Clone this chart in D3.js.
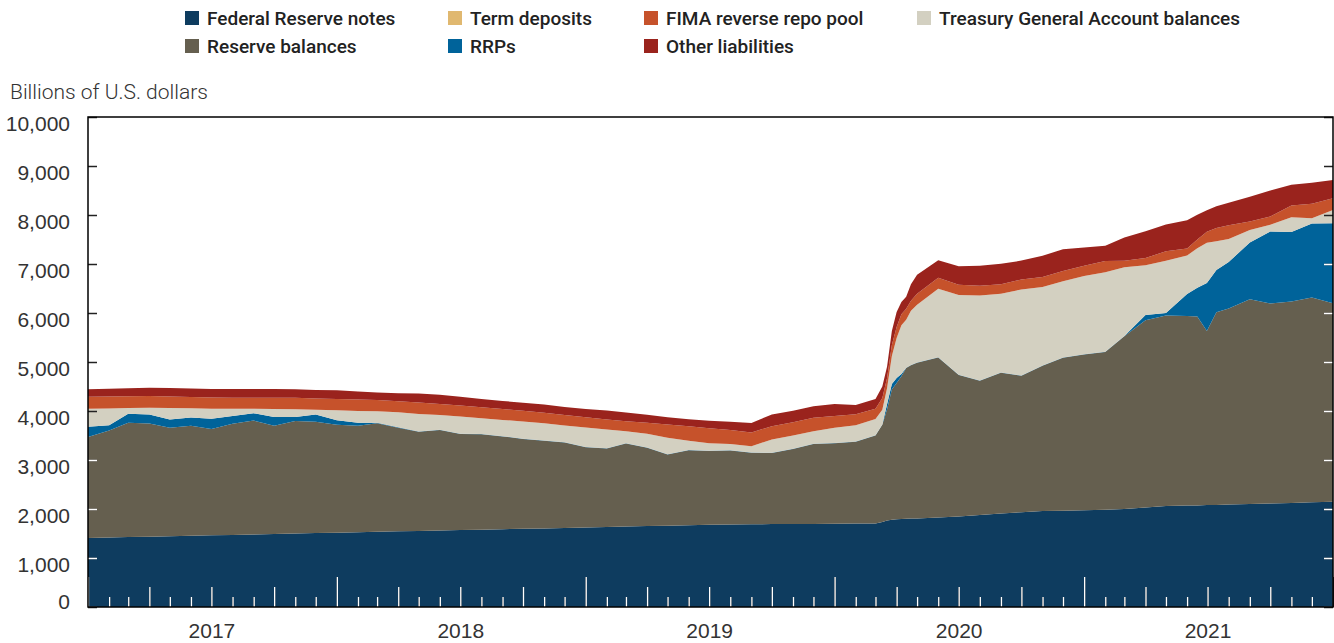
<!DOCTYPE html>
<html>
<head>
<meta charset="utf-8">
<script src="https://cdn.jsdelivr.net/npm/d3@7"></script>
<style>
  body { margin: 0; background: #fff; }
  svg { display: block; font-family: Roboto, "Liberation Sans", sans-serif; }
</style>
</head>
<body>
<svg width="1334" height="643"></svg>
<script>
// liabilities of the Fed, billions of dollars
var dates = [
  "2017-01-01","2017-02-01","2017-03-01","2017-04-01","2017-05-01","2017-06-01","2017-07-01","2017-08-01","2017-09-01","2017-10-01","2017-11-01","2017-12-01",
  "2018-01-01","2018-02-01","2018-03-01","2018-04-01","2018-05-01","2018-06-01","2018-07-01","2018-08-01","2018-09-01","2018-10-01","2018-11-01","2018-12-01",
  "2019-01-01","2019-02-01","2019-03-01","2019-04-01","2019-05-01","2019-06-01","2019-07-01","2019-08-01","2019-09-01","2019-10-01","2019-11-01","2019-12-01",
  "2020-01-01","2020-02-01","2020-03-01","2020-03-11","2020-03-18","2020-03-25","2020-04-01","2020-04-08","2020-04-15","2020-04-22",
  "2020-05-01","2020-06-01","2020-07-01","2020-08-01","2020-09-01","2020-10-01","2020-11-01","2020-12-01",
  "2021-01-01","2021-02-01","2021-03-01","2021-04-01","2021-05-01","2021-06-01","2021-06-16","2021-06-30","2021-07-14",
  "2021-08-01","2021-09-01","2021-10-01","2021-11-01","2021-12-01","2022-01-01"
];
var fedNotes = [
  1408,1416,1427,1435,1443,1453,1463,1471,1480,1490,1498,1508,
  1516,1527,1535,1545,1551,1559,1569,1578,1588,1596,1604,1614,
  1622,1633,1641,1651,1659,1667,1678,1686,1690,1692,1694,1696,
  1698,1702,1704,1735,1765,1780,1790,1796,1800,1804,
  1806,1827,1847,1878,1908,1935,1957,1965,
  1973,1986,2000,2031,2061,2071,2071,2082,2082,
  2092,2102,2112,2122,2137,2149
];
var reserveBalances = [
  2061,2186,2333,2308,2214,2245,2171,2269,2324,2208,2298,2273,
  2202,2171,2216,2112,2024,2051,1961,1949,1894,1831,1790,1741,
  1639,1600,1694,1598,1451,1533,1504,1508,1457,1449,1531,1633,
  1643,1669,1794,1984,2269,2659,2782,2912,3078,3131,
  3178,3263,2886,2739,2873,2784,2965,3122,
  3182,3218,3527,3822,3888,3867,3857,3551,3935,
  4000,4180,4084,4112,4177,4049
];
var rrps = [
  208,106,186,188,169,171,210,157,151,178,80,147,
  92,61,10,10,5,5,5,5,5,5,5,5,
  5,5,5,5,5,5,5,5,5,5,5,5,
  5,5,5,5,108,112,102,47,5,5,
  5,5,5,5,5,5,5,5,
  5,5,5,106,51,451,586,980,861,
  949,1157,1467,1418,1512,1633
];
var termDeposits = [
  0,0,0,0,0,0,0,0,0,0,0,0,
  0,0,0,0,0,0,0,0,0,0,0,0,
  0,0,0,0,0,0,0,0,0,0,0,0,
  0,0,0,0,0,0,0,0,0,0,
  0,0,0,0,0,0,0,0,
  0,0,0,0,0,0,0,0,0,
  0,0,0,0,0,0
];
var tgaBalances = [
  369,345,114,135,235,186,204,147,90,167,161,96,
  204,243,233,306,361,304,351,322,331,353,349,345,
  396,382,245,284,339,186,155,129,131,273,269,255,
  312,331,332,302,327,571,816,995,980,1106,
  1180,1402,1627,1735,1606,1757,1602,1557,
  1594,1622,1402,1014,1067,782,808,822,584,
  471,255,137,302,106,271
];
var fimaPool = [
  245,243,241,241,235,231,227,227,227,229,231,231,
  233,233,233,227,235,224,224,224,224,218,216,212,
  208,206,206,220,273,300,308,284,278,271,271,271,
  240,225,210,239,204,224,224,224,224,204,
  224,222,212,200,194,204,204,210,
  210,229,130,149,192,145,176,224,273,
  278,171,169,239,300,239
];
var otherLiabilities = [
  151,157,163,167,171,173,176,178,178,178,178,176,
  176,163,151,163,180,188,180,169,163,165,171,167,
  169,182,176,163,143,143,153,167,194,239,233,237,
  245,190,200,235,237,286,306,250,245,337,
  388,357,378,408,418,384,437,441,
  371,314,479,545,545,576,506,437,443,
  461,508,529,422,427,373
];
var yTicks = [0,1000,2000,3000,4000,5000,6000,7000,8000,9000,10000];
var yearLabels = [2017,2018,2019,2020,2021];

(function() {
  var series = [
    {key: "frn", name: "Federal Reserve notes", color: "#0e3c5f", values: fedNotes},
    {key: "res", name: "Reserve balances", color: "#655f4f", values: reserveBalances},
    {key: "rrp", name: "RRPs", color: "#00639a", values: rrps},
    {key: "term", name: "Term deposits", color: "#e0b870", values: termDeposits},
    {key: "tga", name: "Treasury General Account balances", color: "#d3d0c1", values: tgaBalances},
    {key: "fima", name: "FIMA reverse repo pool", color: "#c6522b", values: fimaPool},
    {key: "oth", name: "Other liabilities", color: "#9a231d", values: otherLiabilities}
  ];
  var colorOf = {};
  series.forEach(function(s) { colorOf[s.key] = s.color; });

  var parseDate = d3.timeParse("%Y-%m-%d");
  var table = dates.map(function(d, i) {
    var row = {date: parseDate(d)};
    series.forEach(function(s) { row[s.key] = s.values[i]; });
    return row;
  });

  var svg = d3.select("svg");
  var pl = 88, pr = 1333, pt = 117, pb = 607;

  var x = d3.scaleTime()
    .domain([new Date(2017, 0, 1), new Date(2022, 0, 1)])
    .range([pl, pr]);
  var y = d3.scaleLinear().domain([0, 10000]).range([pb, pt]);

  var stack = d3.stack().keys(series.map(function(s) { return s.key; }));
  var layers = stack(table);

  var area = d3.area()
    .x(function(d) { return x(d.data.date); })
    .y0(function(d) { return y(d[0]); })
    .y1(function(d) { return y(d[1]); });

  svg.append("g").selectAll("path")
    .data(layers)
    .enter().append("path")
    .attr("d", area)
    .attr("fill", function(d) { return colorOf[d.key]; });

  // clip region = the dark layers (notes, reserves, RRPs) where ticks go white
  svg.append("clipPath").attr("id", "dark")
    .append("path")
    .attr("d", d3.area()
      .x(function(d) { return x(d.data.date); })
      .y0(y(0))
      .y1(function(d) { return y(d[1]); })(layers[2]));

  function drawTicks(g, color) {
    // x ticks: tall for January, medium for quarters, short for months
    var xa = g.append("g")
      .attr("transform", "translate(0," + pb + ")")
      .call(d3.axisTop(x).ticks(d3.timeMonth.every(1)).tickSize(10).tickFormat(""));
    xa.select(".domain").remove();
    xa.selectAll(".tick line")
      .attr("stroke", color)
      .attr("stroke-width", 1.3)
      .attr("y2", function(d) {
        if (d.getMonth() === 0) return -30;
        if (d.getMonth() % 3 === 0) return -20;
        return -10;
      });
    // y ticks on both sides, pointing inward
    var ya = g.append("g")
      .attr("transform", "translate(" + pl + ",0)")
      .call(d3.axisRight(y).tickValues(yTicks).tickSize(9).tickFormat(""));
    ya.select(".domain").remove();
    ya.selectAll(".tick line").attr("stroke", color).attr("stroke-width", 1.5);
    var yb = g.append("g")
      .attr("transform", "translate(" + pr + ",0)")
      .call(d3.axisLeft(y).tickValues(yTicks).tickSize(9).tickFormat(""));
    yb.select(".domain").remove();
    yb.selectAll(".tick line").attr("stroke", color).attr("stroke-width", 1.5);
  }
  drawTicks(svg.append("g"), "#222");
  drawTicks(svg.append("g").attr("clip-path", "url(#dark)"), "#fff");

  // frame
  svg.append("rect")
    .attr("x", pl).attr("y", pt)
    .attr("width", pr - pl).attr("height", pb - pt)
    .attr("fill", "none").attr("stroke", "#000").attr("stroke-width", 1.5);

  // y labels
  var yl = svg.append("g")
    .attr("transform", "translate(70,0)")
    .call(d3.axisLeft(y).tickValues(yTicks).tickSize(0).tickPadding(0).tickFormat(d3.format(",")));
  yl.select(".domain").remove();
  yl.selectAll("text")
    .attr("fill", "#333")
    .style("font-size", "21px")
    .style("font-weight", 300)
    .attr("dy", function(d) { return d === 0 ? "0.05em" : "0.66em"; });

  svg.append("text")
    .attr("x", 10).attr("y", 99)
    .attr("fill", "#333")
    .style("font-size", "21px")
    .style("font-weight", 300)
    .text("Billions of U.S. dollars");

  // year labels in the middle of each year
  var xl = svg.append("g")
    .attr("transform", "translate(0," + (pb + 16) + ")")
    .call(d3.axisBottom(x)
      .tickValues(yearLabels.map(function(yr) { return new Date(yr, 6, 1); }))
      .tickSize(0).tickPadding(0)
      .tickFormat(d3.timeFormat("%Y")));
  xl.select(".domain").remove();
  xl.selectAll("text")
    .attr("fill", "#333")
    .style("font-size", "21px")
    .style("font-weight", 300);

  // legend
  var legendRows = [
    [series[0], series[3], series[5], series[4]],
    [series[1], series[2], series[6]]
  ];
  var legendX = [185, 448, 644, 917];
  legendRows.forEach(function(row, r) {
    row.forEach(function(s, c) {
      var g = svg.append("g")
        .attr("transform", "translate(" + legendX[c] + "," + (18 + r * 28) + ")");
      g.append("rect")
        .attr("x", 0).attr("y", -7)
        .attr("width", 14).attr("height", 14)
        .attr("fill", s.color);
      g.append("text")
        .attr("x", 22).attr("dy", "0.36em")
        .attr("fill", "#222")
        .style("font-size", "19px")
        .style("font-weight", 500)
        .text(s.name);
    });
  });
})();
</script>
</body>
</html>
